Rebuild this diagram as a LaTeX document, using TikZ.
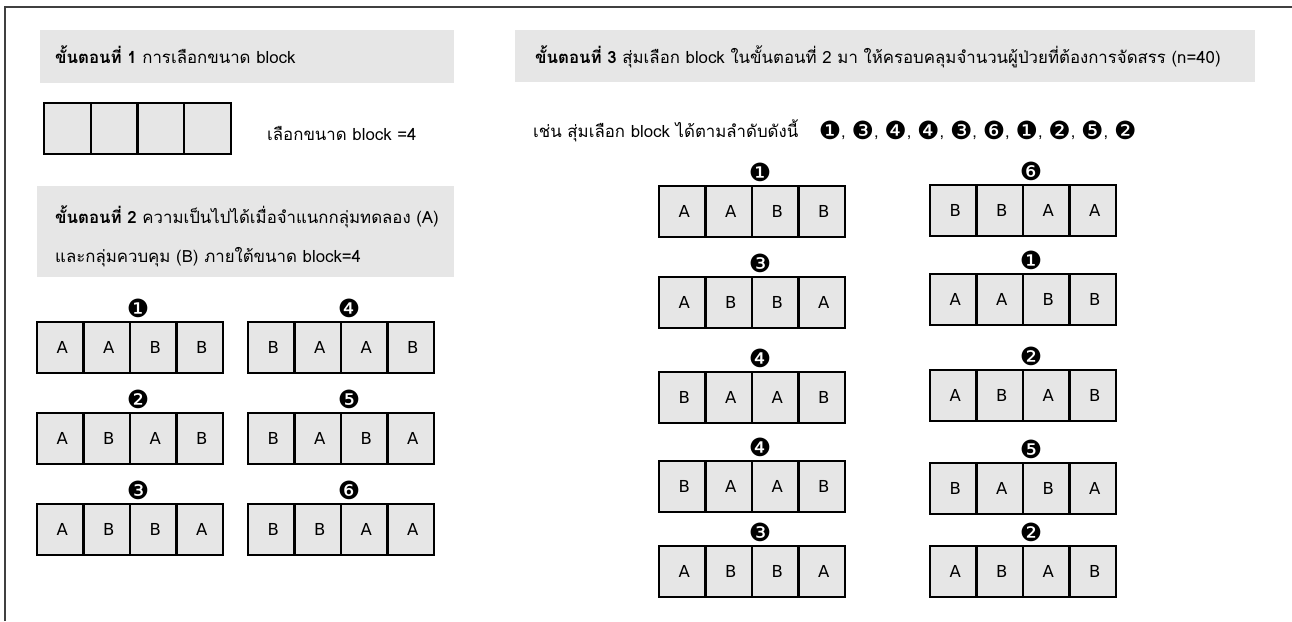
\documentclass[tikz,border=0pt]{standalone}
\usepackage{fontspec}
\setmainfont[Script=Thai]{Loma}
\newfontfamily\dvs{DejaVu Sans}
\definecolor{boxgray}{HTML}{E6E6E6}
\definecolor{framegray}{HTML}{404040}
\tikzset{
  cell/.style={draw=black, line width=2.3pt, fill=boxgray, minimum width=46.5pt, minimum height=51pt,
    inner sep=0pt, outer sep=0pt, font=\dvs\fontsize{16.5}{16.5}\selectfont},
  num/.style={inner sep=0pt, font=\dvs\fontsize{25}{25}\selectfont},
  comma/.style={inner sep=0pt, anchor=base west, font=\fontsize{16.5}{17}\selectfont},
  head/.style={fill=boxgray, draw=none, inner sep=0pt},
  txt/.style={inner sep=0pt, anchor=base west, font=\fontsize{16.8}{19}\selectfont},
}
\newcommand{\blkrow}[5]{%
  \foreach \L [count=\i] in {#4} {
    \node[cell] (#1c\i) at ({#2+(\i-0.5)*46.5},{#3+25.5}) {\raisebox{-2pt}{\hspace{4pt}\L}};
  }
  \node[num] (#1n) at ({#2+101},{#3-14}) {#5};
}
\begin{document}
\begin{tikzpicture}[x=1pt,y=-1pt]
\useasboundingbox (0,0) rectangle (1292,621);
% frame
\draw[framegray, line width=2pt] (5,621) -- (5,7) -- (1292,7);
% headers
\node[head, anchor=north west, minimum width=414pt, minimum height=53pt] (h1) at (40,30) {};
\node[head, anchor=north west, minimum width=417pt, minimum height=91pt] (h2) at (37,186) {};
\node[head, anchor=north west, minimum width=740pt, minimum height=52pt] (h3) at (515,30) {};
\node[txt] (t1) at (55,63) {\textbf{ขั้นตอนที่ 1} การเลือกขนาด block};
\node[txt] (t2a) at (55,223) {\textbf{ขั้นตอนที่ 2} ความเป็นไปได้เมื่อจำแนกกลุ่มทดลอง (A)};
\node[txt] (t2b) at (55,262) {และกลุ่มควบคุม (B) ภายใต้ขนาด block=4};
\node[txt] (t3) at (535,63) {\textbf{ขั้นตอนที่ 3} สุ่มเลือก block ในขั้นตอนที่ 2 มา ให้ครอบคลุมจำนวนผู้ป่วยที่ต้องการจัดสรร (n=40)};
% step 1
\foreach \i in {1,...,4} {
  \node[cell, minimum width=46.75pt] (e\i) at ({44+(\i-0.5)*46.75},128.5) {};
}
\node[txt] (t1b) at (267,140) {เลือกขนาด block =4};
% step 2
\blkrow{pa}{37}{322}{A,A,B,B}{❶}
\blkrow{pb}{37}{413}{A,B,A,B}{❷}
\blkrow{pc}{37}{504}{A,B,B,A}{❸}
\blkrow{pd}{248}{322}{B,A,A,B}{❹}
\blkrow{pe}{248}{413}{B,A,B,A}{❺}
\blkrow{pf}{248}{504}{B,B,A,A}{❻}
% step 3 example line
\node[txt] (t3b) at (533,137) {เช่น สุ่มเลือก block ได้ตามลำดับดังนี้};
\foreach \s [count=\k] in {❶,❸,❹,❹,❸,❻,❶,❷,❺} {
  \node[num] (s\k) at ({830+(\k-1)*32.8},130) {\s};
  \node[comma] (c\k) at ({841+(\k-1)*32.8},137) {,};
}
\node[num] (s10) at ({830+9*32.8},130) {❷};
% step 3 blocks
\blkrow{qa}{659}{186}{A,A,B,B}{❶}
\blkrow{qb}{659}{277}{A,B,B,A}{❸}
\blkrow{qc}{659}{372}{B,A,A,B}{❹}
\blkrow{qd}{659}{461}{B,A,A,B}{❹}
\blkrow{qe}{659}{546}{A,B,B,A}{❸}
\blkrow{qf}{930}{185}{B,B,A,A}{❻}
\blkrow{qg}{930}{274}{A,A,B,B}{❶}
\blkrow{qh}{930}{370}{A,B,A,B}{❷}
\blkrow{qi}{930}{463}{B,A,B,A}{❺}
\blkrow{qj}{930}{546}{A,B,A,B}{❷}
\end{tikzpicture}
\end{document}
